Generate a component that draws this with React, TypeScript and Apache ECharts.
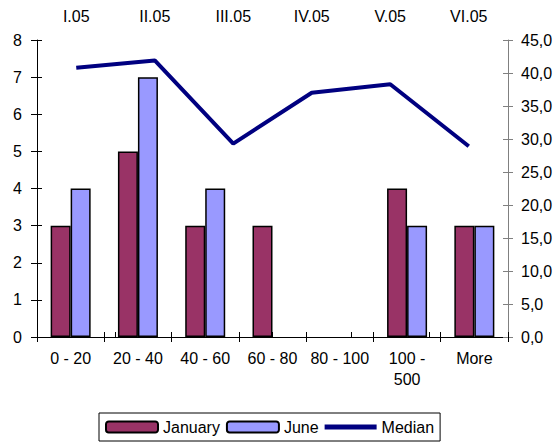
import React, { useEffect, useRef } from "react";
import * as echarts from "echarts";

const categories = ["0 - 20", "20 - 40", "40 - 60", "60 - 80", "80 - 100", "100 -\n500", "More"];
const januaryValues = [3, 5, 3, 3, 0, 4, 3];
const juneValues = [4, 7, 4, 0, 0, 3, 3];
const months = ["I.05", "II.05", "III.05", "IV.05", "V.05", "VI.05"];
const medianValues = [40.8, 41.9, 29.3, 37.0, 38.3, 28.9];

const FONT = "'Liberation Sans', Arial, sans-serif";

const barData = (vals: number[]) =>
  vals.map((v) => (v === 0 ? { value: v, itemStyle: { borderWidth: 0, opacity: 0 } } : v));

export default function App() {
  const ref = useRef<HTMLDivElement>(null);
  useEffect(() => {
    if (!ref.current) return;
    const chart = echarts.init(ref.current, undefined, { renderer: "svg" });
    const black = "#000";
    const grey = "#808080";
    chart.setOption({
      animation: false,
      backgroundColor: "#fff",
      textStyle: { fontFamily: FONT, fontSize: 16, color: black },
      grid: { left: 37, right: 48, top: 40, bottom: 106, containLabel: false },
      legend: {
        left: 99,
        top: 413,
        padding: [6, 6, 6, 6],
        itemGap: 6,
        itemWidth: 52,
        itemHeight: 11,
        borderColor: black,
        borderWidth: 1,
        textStyle: { fontFamily: FONT, fontSize: 16, color: black },
        data: [
          "January",
          "June",
          {
            name: "Median",
            icon: "path://M0,0 M0,3 L52,3 L52,8 L0,8 Z M52,11",
            itemStyle: { color: "#000080", borderWidth: 0 },
          },
        ],
      },
      xAxis: [
        {
          type: "category",
          position: "bottom",
          data: categories,
          boundaryGap: true,
          axisLine: { show: true, lineStyle: { color: black, width: 1 } },
          axisTick: { show: true, length: 5, inside: false, lineStyle: { color: black } },
          axisLabel: { color: black, fontSize: 16, fontFamily: FONT, margin: 11, lineHeight: 21, interval: 0 },
          splitLine: { show: false },
        },
        {
          type: "category",
          position: "top",
          data: months,
          boundaryGap: true,
          axisLine: { show: true, lineStyle: { color: black, width: 1 } },
          axisTick: { show: true, length: 5, inside: false, lineStyle: { color: black } },
          axisLabel: { color: black, fontSize: 16, fontFamily: FONT, margin: 16, interval: 0 },
          splitLine: { show: false },
        },
        {
          type: "category",
          position: "bottom",
          data: categories,
          boundaryGap: true,
          axisLine: { show: false },
          axisTick: { show: true, length: 5, inside: true, lineStyle: { color: black } },
          axisLabel: { show: false },
          splitLine: { show: false },
        },
      ],
      yAxis: [
        {
          type: "value",
          position: "left",
          min: 0,
          max: 8,
          interval: 1,
          axisLine: { show: true, lineStyle: { color: black, width: 1 } },
          axisTick: { show: true, length: 6, lineStyle: { color: black } },
          axisLabel: { color: black, fontSize: 16, fontFamily: FONT, margin: 15 },
          splitLine: { show: false },
        },
        {
          type: "value",
          position: "right",
          min: 0,
          max: 45,
          interval: 5,
          axisLine: { show: true, lineStyle: { color: grey, width: 1 } },
          axisTick: { show: true, length: 5, lineStyle: { color: grey } },
          axisLabel: {
            color: black,
            fontSize: 16,
            fontFamily: FONT,
            margin: 13,
            formatter: (v: number) => v.toFixed(1).replace(".", ","),
          },
          splitLine: { show: false },
        },
        {
          type: "value",
          position: "left",
          min: 0,
          max: 8,
          interval: 1,
          axisLine: { show: false },
          axisTick: { show: true, inside: true, length: 5, lineStyle: { color: black } },
          axisLabel: { show: false },
          splitLine: { show: false },
        },
        {
          type: "value",
          position: "right",
          min: 0,
          max: 45,
          interval: 5,
          axisLine: { show: false },
          axisTick: { show: true, inside: true, length: 5, lineStyle: { color: grey } },
          axisLabel: { show: false },
          splitLine: { show: false },
        },
      ],
      series: [
        {
          name: "January",
          type: "bar",
          xAxisIndex: 0,
          yAxisIndex: 0,
          data: barData(januaryValues),
          barWidth: 20,
          barGap: "0%",
          itemStyle: { color: "#993366", borderColor: black, borderWidth: 1.5 },
        },
        {
          name: "June",
          type: "bar",
          xAxisIndex: 0,
          yAxisIndex: 0,
          data: barData(juneValues),
          barWidth: 20,
          barGap: "0%",
          itemStyle: { color: "#9999FF", borderColor: black, borderWidth: 1.5 },
        },
        {
          name: "Median",
          type: "line",
          xAxisIndex: 1,
          yAxisIndex: 1,
          data: medianValues,
          symbol: "none",
          showSymbol: false,
          lineStyle: { color: "#000080", width: 4 },
          itemStyle: { color: "#000080" },
          z: 5,
        },
      ],
    });
    return () => chart.dispose();
  }, []);
  return (
    <div
      ref={ref}
      style={{ position: "fixed", left: 0, top: 0, width: 556, height: 443, background: "#fff" }}
    />
  );
}
